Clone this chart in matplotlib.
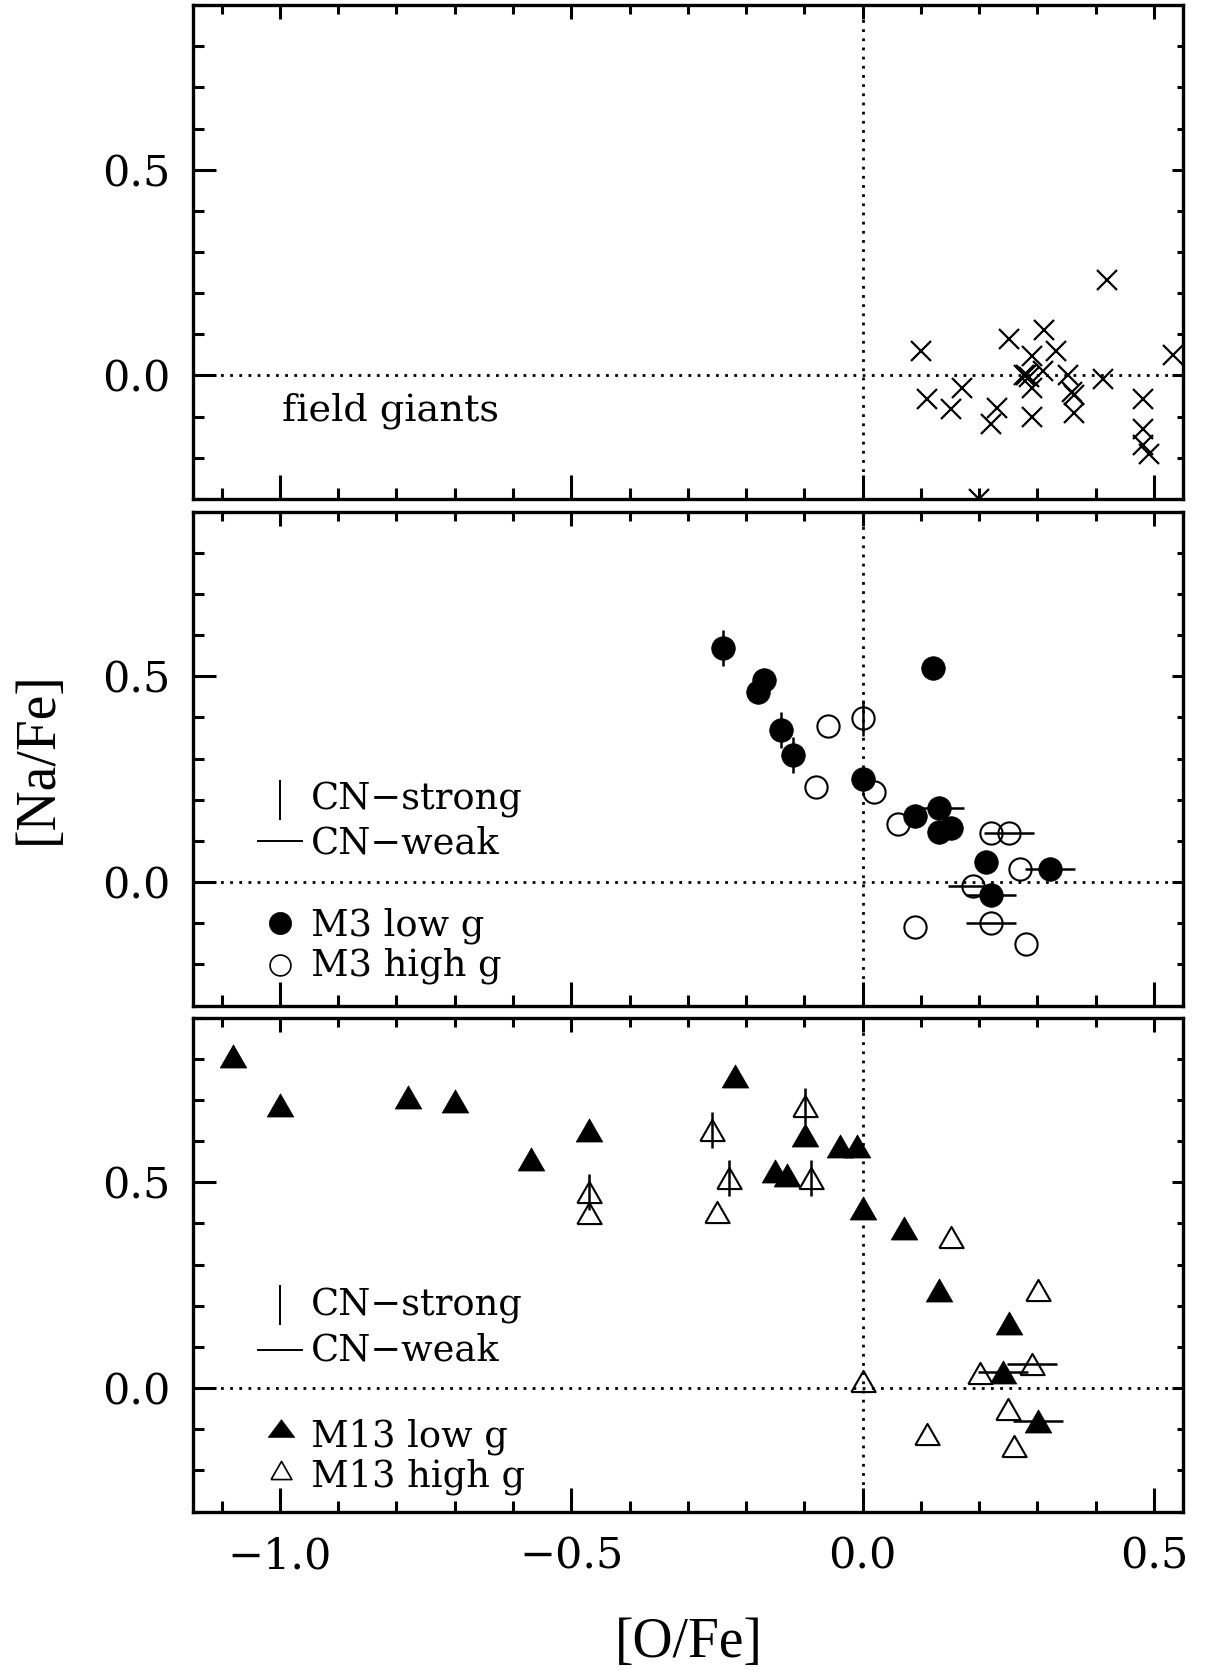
import numpy as np
import matplotlib
matplotlib.use("Agg")
import matplotlib.pyplot as plt
from matplotlib.ticker import MultipleLocator

# field giants: [O/Fe], [Na/Fe]
field_ofe = [0.100, 0.111, 0.151, 0.171, 0.231, 0.221, 0.251, 0.291, 0.280, 0.277,
             0.286, 0.291, 0.310, 0.312, 0.332, 0.291, 0.352, 0.359, 0.363, 0.362,
             0.412, 0.420, 0.532, 0.481, 0.481, 0.481, 0.492, 0.200]
field_nafe = [0.059, -0.058, -0.081, -0.030, -0.080, -0.118, 0.088, 0.048, 0.000, 0.002,
              -0.004, -0.031, 0.010, 0.110, 0.060, -0.102, 0.000, -0.040, -0.048, -0.092,
              -0.008, 0.231, 0.050, -0.058, -0.130, -0.168, -0.190, -0.300]

# M3 (flag: v = CN-strong, h = CN-weak, '' = unknown)
m3_low_ofe = [-0.239, -0.170, -0.179, -0.140, -0.120, 0.121, 0.000, 0.090, 0.131, 0.131,
              0.151, 0.211, 0.322, 0.221]
m3_low_nafe = [0.568, 0.490, 0.461, 0.370, 0.309, 0.519, 0.251, 0.160, 0.180, 0.122,
               0.130, 0.049, 0.031, -0.031]
m3_low_cn = ["v", "", "", "v", "v", "", "", "", "h", "", "", "", "h", "h"]

m3_high_ofe = [-0.059, 0.000, -0.080, 0.019, 0.060, 0.220, 0.251, 0.270, 0.190, 0.221,
               0.090, 0.280]
m3_high_nafe = [0.379, 0.399, 0.230, 0.219, 0.140, 0.120, 0.120, 0.031, -0.010, -0.100,
                -0.110, -0.151]
m3_high_cn = ["", "v", "", "", "", "", "h", "", "h", "h", "", ""]

# M13
m13_low_ofe = [-1.080, -1.000, -0.780, -0.699, -0.570, -0.469, -0.219, -0.099, -0.039,
               -0.009, -0.151, -0.129, 0.001, 0.071, 0.131, 0.251, 0.240, 0.301]
m13_low_nafe = [0.807, 0.687, 0.708, 0.697, 0.557, 0.628, 0.758, 0.615, 0.588,
                0.588, 0.527, 0.518, 0.438, 0.388, 0.237, 0.159, 0.038, -0.081]
m13_low_cn = ["", "", "", "", "", "", "", "", "", "", "", "", "", "", "", "", "h", "h"]

m13_high_ofe = [-0.469, -0.469, -0.099, -0.259, -0.229, -0.089, -0.250, 0.151, 0.301,
                0.202, 0.291, 0.000, 0.250, 0.111, 0.260]
m13_high_nafe = [0.477, 0.424, 0.685, 0.626, 0.510, 0.510, 0.428, 0.366, 0.238,
                 0.036, 0.058, 0.017, -0.052, -0.111, -0.141]
m13_high_cn = ["v", "", "v", "v", "v", "v", "", "", "", "", "h", "", "", "", ""]

x_ticks = [-1.0, -0.5, 0.0, 0.5]
x_ticklabels = ["\u22121.0", "\u22120.5", "0.0", "0.5"]
y_ticks = [0.0, 0.5]
y_ticklabels = ["0.0", "0.5"]

SERIF = "DejaVu Serif"
tri = [(-1, -0.87), (1, -0.87), (0, 0.87), (-1, -0.87)]
tri_leg = [(-1, -0.67), (1, -0.67), (0, 0.67), (-1, -0.67)]

fig = plt.figure(figsize=(12.11, 16.70), dpi=100)
L, W, H = 0.159, 0.818, 0.2958
bottoms = [0.7012, 0.3979, 0.0949]
axes = [fig.add_axes([L, b, W, H]) for b in bottoms]


def style_axis(ax, show_x):
    ax.set_xlim(-1.15, 0.55)
    ax.set_ylim(-0.3, 0.9)
    for s in ax.spines.values():
        s.set_linewidth(2.4)
    ax.xaxis.set_major_locator(MultipleLocator(0.5))
    ax.xaxis.set_minor_locator(MultipleLocator(0.1))
    ax.set_yticks(y_ticks)
    ax.set_yticklabels(y_ticklabels, fontfamily=SERIF, fontsize=31)
    ax.yaxis.set_minor_locator(MultipleLocator(0.1))
    ax.tick_params(which="both", direction="in", width=2.2, top=False, right=False)
    ax.tick_params(axis="y", which="major", length=16.5, pad=16)
    ax.tick_params(axis="y", which="minor", length=8)
    ax.tick_params(axis="x", which="major", length=17, pad=17)
    ax.tick_params(axis="x", which="minor", length=8)
    ax.set_xticks(x_ticks)
    if show_x:
        ax.set_xticklabels(x_ticklabels, fontfamily=SERIF, fontsize=31)
    else:
        ax.set_xticklabels([])
    # short ticks on top and right
    top = ax.secondary_xaxis("top")
    top.set_xticks(x_ticks)
    top.xaxis.set_minor_locator(MultipleLocator(0.1))
    top.tick_params(which="major", direction="in", length=10, width=2.2, labeltop=False)
    top.tick_params(which="minor", direction="in", length=6.5, width=2.2)
    top.spines["top"].set_visible(False)
    right = ax.secondary_yaxis("right")
    right.set_yticks(y_ticks)
    right.yaxis.set_minor_locator(MultipleLocator(0.1))
    right.tick_params(which="major", direction="in", length=8, width=2.2, labelright=False)
    right.tick_params(which="minor", direction="in", length=4.5, width=2.2)
    right.spines["right"].set_visible(False)
    dots = dict(color="k", lw=2, ls=(0, (1, 2.3)), dash_capstyle="butt", zorder=1)
    ax.axhline(0.0, **dots)
    ax.axvline(0.0, **dots)


def bars(ax, xs, ys, flags):
    for x, y, f in zip(xs, ys, flags):
        if f == "v":
            ax.plot(x, y, marker="|", ms=26, mew=1.8, color="k", zorder=3)
        elif f == "h":
            ax.plot(x, y, marker="_", ms=36, mew=1.8, color="k", zorder=3)


# top panel: field giants
ax = axes[0]
style_axis(ax, False)
ax.plot(field_ofe, field_nafe, ls="none", marker="x", ms=14.5, mew=1.6, color="k")
ax.text(-0.997, -0.11, "field giants", fontfamily=SERIF, fontsize=27.5, va="baseline")

# middle panel: M3
ax = axes[1]
style_axis(ax, False)
ax.plot(m3_low_ofe, m3_low_nafe, ls="none", marker="o", ms=17, mew=0.5,
        mfc="k", mec="k", zorder=4)
ax.plot(m3_high_ofe, m3_high_nafe, ls="none", marker="o", ms=16, mew=1.5,
        mfc="none", mec="k", zorder=4)
bars(ax, m3_low_ofe, m3_low_nafe, m3_low_cn)
bars(ax, m3_high_ofe, m3_high_nafe, m3_high_cn)

# bottom panel: M13
ax = axes[2]
style_axis(ax, True)
ax.plot(m13_low_ofe, m13_low_nafe, ls="none", marker=tri, ms=19, mew=0.6,
        mfc="k", mec="k", zorder=4)
ax.plot(m13_high_ofe, m13_high_nafe, ls="none", marker=tri, ms=17.5, mew=1.5,
        mfc="none", mec="k", zorder=4)
bars(ax, m13_low_ofe, m13_low_nafe, m13_low_cn)
bars(ax, m13_high_ofe, m13_high_nafe, m13_high_cn)

# legends
tx = -0.947
leg_font = dict(fontfamily=SERIF, fontsize=26.5, va="baseline")
for ax, rows in [
    (axes[1], [(0.199, 0.175, "CN\u2212strong"), (0.10, 0.070, "CN\u2212weak"),
               (-0.100, -0.129, "M3 low g"), (-0.202, -0.226, "M3 high g")]),
    (axes[2], [(0.202, 0.177, "CN\u2212strong"), (0.092, 0.068, "CN\u2212weak"),
               (-0.097, -0.143, "M13 low g"), (-0.199, -0.240, "M13 high g")]),
]:
    ax.plot(-1.0, rows[0][0], marker="|", ms=29, mew=1.4, color="k")
    ax.plot(-1.0, rows[1][0], marker="_", ms=33, mew=1.4, color="k")
    if ax is axes[1]:
        ax.plot(-1.0, rows[2][0], marker="o", ms=16, mfc="k", mec="k", mew=0.5)
        ax.plot(-1.0, rows[3][0], marker="o", ms=15, mfc="none", mec="k", mew=1.2)
    else:
        ax.plot(-0.998, rows[2][0], marker=tri_leg, ms=19, mfc="k", mec="k", mew=0.5)
        ax.plot(-0.998, rows[3][0], marker=tri, ms=15, mfc="none", mec="k", mew=1.2)
    for _, yb, label in rows:
        ax.text(tx, yb, label, **leg_font)

fig.text(0.5685, 1 - 1643 / 1670, "[O/Fe]", fontfamily="Liberation Serif",
         fontsize=40, ha="center", va="center")
fig.text(38 / 1211, 1 - 758 / 1670, "[Na/Fe]", fontfamily="Liberation Serif",
         fontsize=40, ha="center", va="center", rotation=90)

fig.savefig("out.png", dpi=100)
